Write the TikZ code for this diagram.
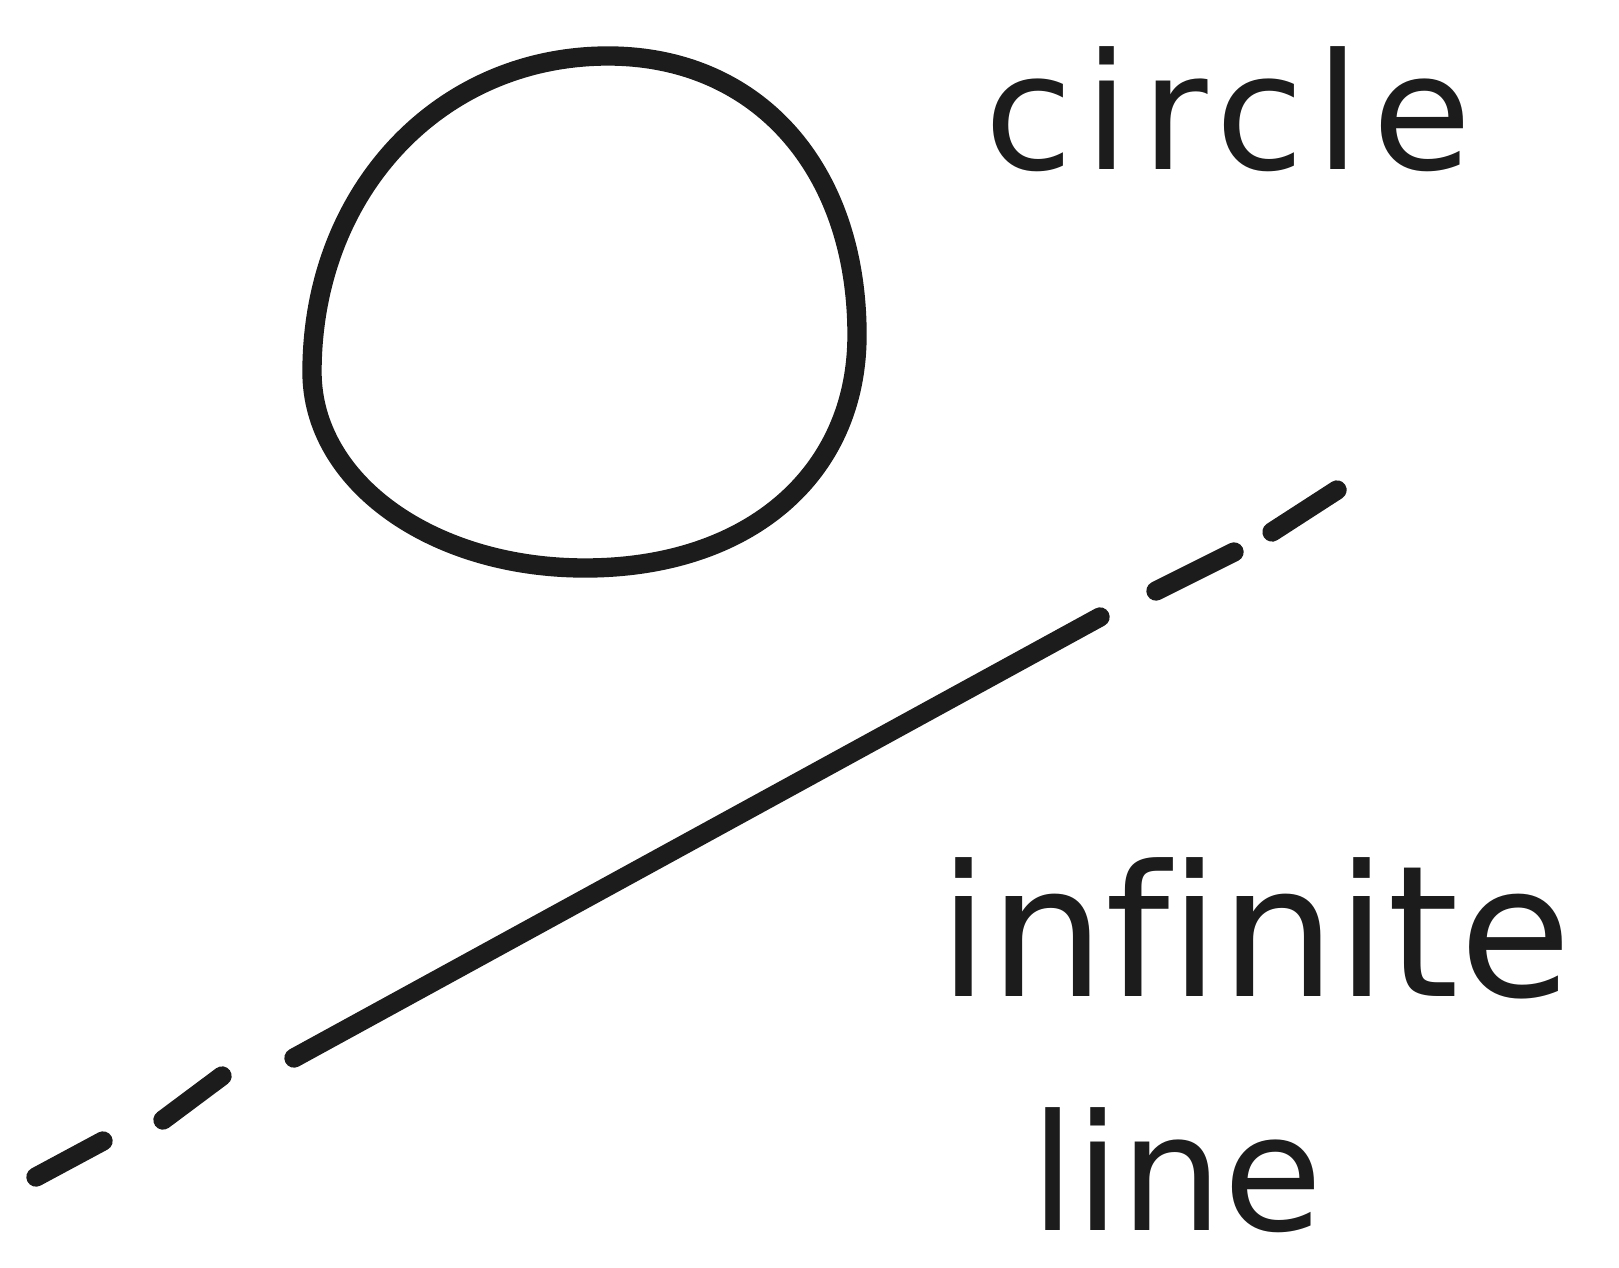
\documentclass[tikz,border=0pt]{standalone}
\usepackage{fontspec}
\setmainfont[Ligatures=NoCommon]{DejaVu Sans}
\usetikzlibrary{positioning}
\definecolor{ink}{HTML}{1C1C1C}

\begin{document}
\begin{tikzpicture}[
    x=0.01cm,y=-0.01cm,
    stroke/.style={draw=ink,line width=5.5pt,line cap=round,line join=round},
    word/.style={text=ink,inner sep=0pt,anchor=base west}
]
\useasboundingbox[fill=white] (0,0) rectangle (1619,1267);
% the circle
\coordinate (top) at (608,56);   \coordinate (rgt) at (857,335);
\coordinate (bot) at (585,568);  \coordinate (lft) at (312,372);
\draw[stroke] (top) .. controls (757,56) and (857,168) .. (rgt)
    .. controls (857,475) and (748,568) .. (bot)
    .. controls (432,568) and (312,482) .. (lft)
    .. controls (312,192) and (439,56) .. (top) -- cycle;
\node[word,font=\fontsize{46}{46}\selectfont\addfontfeature{LetterSpace=7}] (circ) at (984,170) {circle};
% the line
\coordinate (a1) at (36,1177);   \coordinate (a2) at (103,1141);
\coordinate (b1) at (163,1120);  \coordinate (b2) at (222,1076);
\coordinate (c1) at (294,1058);  \coordinate (c2) at (1100,617);
\coordinate (d1) at (1156,591);  \coordinate (d2) at (1234,552);
\coordinate (e1) at (1272,532);  \coordinate (e2) at (1337,490);
\draw[stroke] (a1) -- (a2);
\draw[stroke] (b1) -- (b2);
\draw[stroke] (c1) -- (c2);
\draw[stroke] (d1) -- (d2);
\draw[stroke] (e1) -- (e2);
\node[word,font=\fontsize{52}{52}\selectfont] (inf) at (938,996) {infinite};
\node[word,font=\fontsize{46}{46}\selectfont] (lin) at (1030,1230) {line};
\end{tikzpicture}
\end{document}
